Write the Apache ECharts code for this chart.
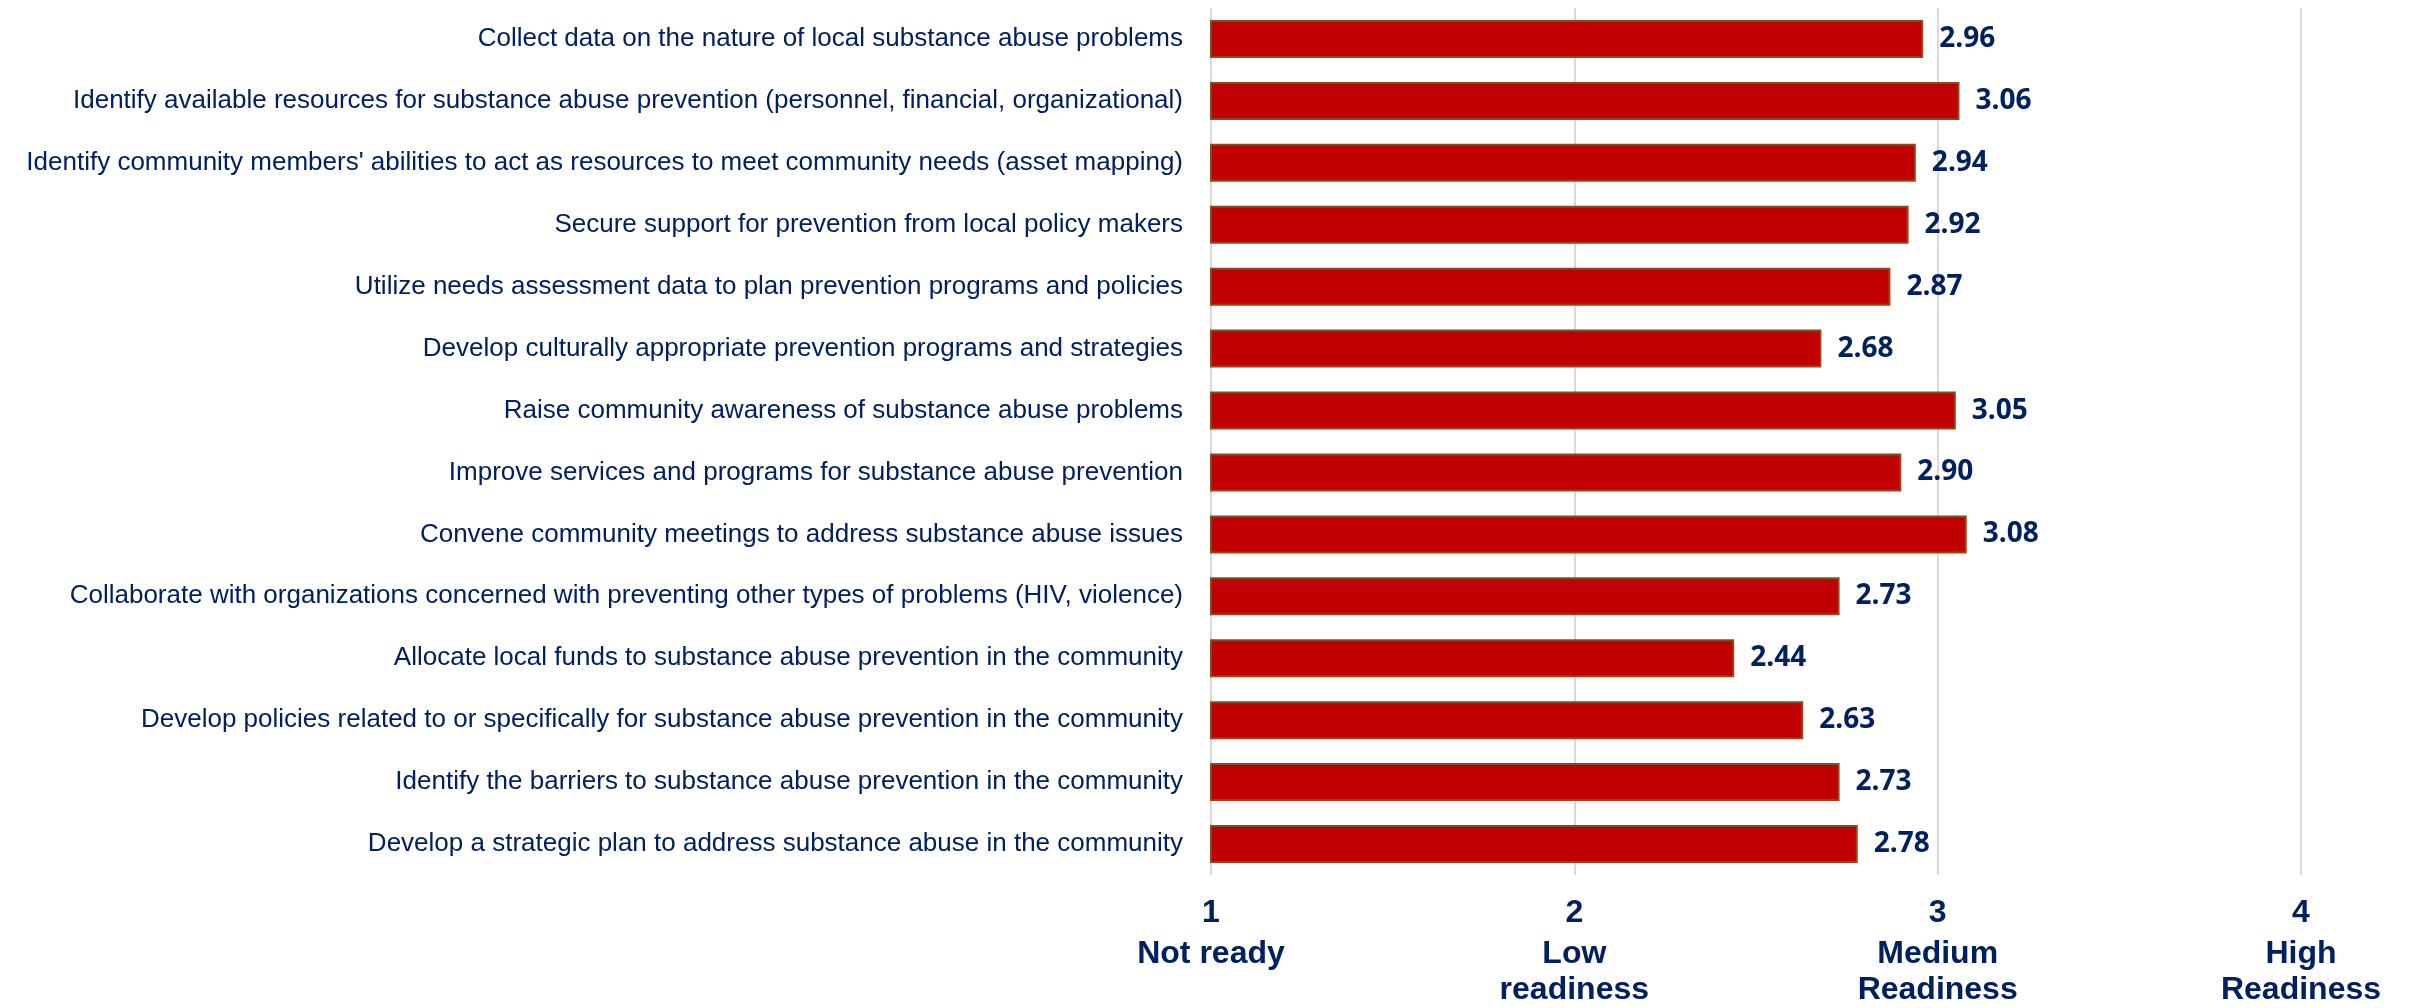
<!DOCTYPE html>
<html>
<head>
<meta charset="utf-8">
<script src="https://cdn.jsdelivr.net/npm/echarts@6/dist/echarts.min.js"></script>
<style>
  html, body { margin: 0; padding: 0; background: #ffffff; }
  #chart { width: 2415px; height: 1008px; }
</style>
</head>
<body>
<div id="chart"></div>
<script>
// Readiness items, top to bottom
const categories = [
  "Collect data on the nature of local substance abuse problems",
  "Identify available resources for substance abuse prevention (personnel, financial, organizational)",
  "Identify community members' abilities to act as resources to meet community needs (asset mapping)",
  "Secure support for prevention from local policy makers",
  "Utilize needs assessment data to plan prevention programs and policies",
  "Develop culturally appropriate prevention programs and strategies",
  "Raise community awareness of substance abuse problems",
  "Improve services and programs for substance abuse prevention",
  "Convene community meetings to address substance abuse issues",
  "Collaborate with organizations concerned with preventing other types of problems (HIV, violence)",
  "Allocate local funds to substance abuse prevention in the community",
  "Develop policies related to or specifically for substance abuse prevention in the community",
  "Identify the barriers to substance abuse prevention in the community",
  "Develop a strategic plan to address substance abuse in the community"
];

// Mean readiness score per item
const scores = [2.96, 3.06, 2.94, 2.92, 2.87, 2.68, 3.05, 2.90, 3.08, 2.73, 2.44, 2.63, 2.73, 2.78];

// Scale anchors along the x axis
const tickValues = [1, 2, 3, 4];
const tickNames = ["Not ready", "Low\nreadiness", "Medium\nReadiness", "High\nReadiness"];

const navy = "#002060";
const sans = "'Liberation Sans Narrow', 'Arial Narrow', 'Liberation Sans', Arial, sans-serif";

const chart = echarts.init(document.getElementById("chart"), null, { renderer: "canvas" });

chart.setOption({
  animation: false,
  backgroundColor: "#ffffff",
  grid: {
    left: 1211, right: 114, top: 8, bottom: 133,
    containLabel: false,
    outerBoundsMode: "none"
  },
  xAxis: {
    type: "value",
    min: 1,
    max: 4,
    interval: 1,
    axisLine: { show: false },
    axisTick: { show: false },
    splitLine: { show: true, lineStyle: { color: "#d9d9d9", width: 2 } },
    axisLabel: {
      margin: 15,
      color: navy,
      fontFamily: sans,
      fontWeight: "bold",
      fontSize: 32,
      align: "center",
      formatter: function (v) {
        const i = tickValues.indexOf(v);
        if (i < 0) return "";
        const lines = tickNames[i].split("\n").map(function (s) { return "{t|" + s + "}"; });
        return "{n|" + v + "}\n" + lines.join("\n");
      },
      rich: {
        n: { color: navy, fontFamily: sans, fontWeight: "bold", fontSize: 32, lineHeight: 46 },
        t: { color: navy, fontFamily: sans, fontWeight: "bold", fontSize: 32, lineHeight: 36 }
      }
    }
  },
  yAxis: {
    type: "category",
    inverse: true,
    data: categories,
    axisLine: { show: false },
    axisTick: { show: false },
    axisLabel: {
      margin: 28,
      color: navy,
      fontFamily: sans,
      fontSize: 26
    }
  },
  series: [{
    type: "bar",
    data: scores,
    barWidth: 38,
    itemStyle: { color: "#c00000", borderColor: "#8a4a1c", borderWidth: 2 },
    label: {
      show: true,
      position: "right",
      distance: 16,
      color: navy,
      fontFamily: "'Open Sans', sans-serif",
      fontWeight: "bold",
      fontSize: 28,
      formatter: function (p) { return p.value.toFixed(2); }
    }
  }]
});
</script>
</body>
</html>
